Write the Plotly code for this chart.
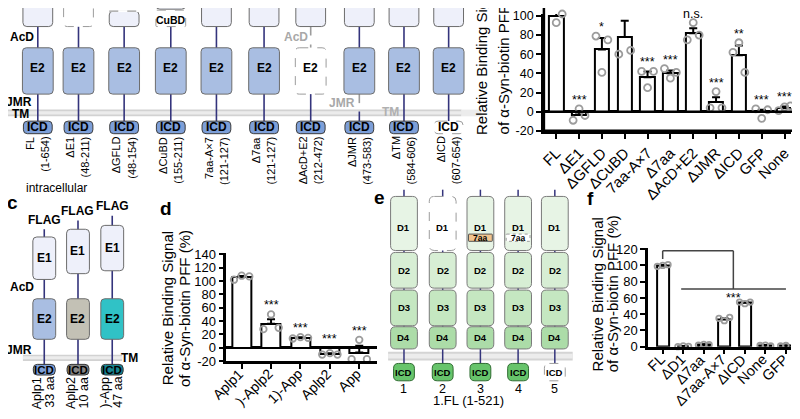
import plotly.graph_objects as go

# ---------------- data ----------------
cats_a = ["FL", "ΔE1", "ΔGFLD", "ΔCuBD", "7aa-A×7", "Δ7aa", "ΔAcD+E2", "ΔJMR", "ΔICD", "GFP", "None"]
means_a = [100, -3, 65, 78, 36, 40, 82, 10, 59, 1, 4]
sem_a = [4, 3, 12, 17, 6, 3, 5, 5, 10, 1, 1.5]
pts_a = [[106, 93, 102], [-9, 3, -4], [79, 41, 75], [60, 110, 64], [42, 25, 42], [45, 35, 41],
         [75, 93, 80], [4, 21, 4], [62, 72, 41], [3, -7, 2], [1, 5, 6]]
sig_a = ["", "***", "*", "", "***", "***", "n.s.", "***", "**", "***", "***"]
yticks_a = [-20, 0, 20, 40, 60, 80, 100]

# category names as far as they are visible in the cropped figure
cats_d = ["Aplp1", ")-Aplp2", "1)-App", "Aplp2", "App"]
means_d = [106, 36, 15, -9, -7]
sem_d = [1.5, 7, 1, 1, 10]
pts_d = [[102, 108, 107], [28, 50, 30], [14, 16, 15], [-10, -8, -10], [-17, 12, -17]]
sig_d = ["", "***", "***", "***", "***"]
yticks_d = [-20, 0, 20, 40, 60, 80, 100, 120, 140]

cats_f = ["FL", "ΔD1", "Δ7aa", "Δ7aa-A×7", "ΔICD", "None", "GFP"]
means_f = [100, 0.5, 2.5, 34, 54, 1.5, 1]
sem_f = [0.5, 0.3, 0.5, 1.5, 1.5, 0.5, 0.5]
pts_f = [[99, 100, 101], [0, 1, 0.5], [2, 3, 2.5], [35, 32, 36], [55, 53, 55], [1.5, 2, 1], [1, 1.5, 0.5]]
sig_f = "***"
yticks_f = [0, 20, 40, 60, 80, 100, 120]

constructs_a = ["FL", "ΔE1", "ΔGFLD", "ΔCuBD", "7aa-A×7", "Δ7aa", "ΔAcD+E2", "ΔJMR", "ΔTM", "ΔICD"]
ranges_a = ["(1-654)", "(48-211)", "(48-154)", "(155-211)", "(121-127)", "(121-127)",
            "(212-472)", "(473-583)", "(584-606)", "(607-654)"]
constructs_c = ["Aplp1", "Aplp2", ")-App"]
lengths_c = ["33 aa", "10 aa", "47 aa"]
numbers_e = ["1", "2", "3", "4", "5"]
legend_e = ["1.FL (1-521)"]
ytitle = ["Relative Binding Signal", "of α-Syn-biotin PFF (%)"]

# ---------------- geometry helpers ----------------
# the page keeps its 8 px body margin: the figure is 16 px smaller than the window
M = 8
W, H = 800 - 2 * M, 419 - 2 * M
FONT = "Liberation Sans, Arial, sans-serif"
NAVY = "#34347c"
GRAYL = "#9c9c9c"
shapes, anns = [], []


def X(v):
    return (v - M) / W


def Y(v):
    return 1 - (v - M) / H


def line(x0, y0, x1, y1, color=NAVY, w=1.6, dash=None):
    shapes.append(dict(type="line", xref="paper", yref="paper", x0=X(x0), y0=Y(y0), x1=X(x1), y1=Y(y1),
                       line=dict(color=color, width=w, dash=dash)))


def rect(x0, y0, x1, y1, fill):
    shapes.append(dict(type="rect", xref="paper", yref="paper", x0=X(x0), y0=Y(y0), x1=X(x1), y1=Y(y1),
                       fillcolor=fill, line=dict(width=0)))


def rbox(x0, y0, x1, y1, fill, lc="#6c6c6c", w=1, dash=None, r=4):
    f = lambda a, b: f"{X(a):.5f},{Y(b):.5f}"
    p = (f"M {f(x0 + r, y0)} L {f(x1 - r, y0)} Q {f(x1, y0)} {f(x1, y0 + r)} "
         f"L {f(x1, y1 - r)} Q {f(x1, y1)} {f(x1 - r, y1)} L {f(x0 + r, y1)} "
         f"Q {f(x0, y1)} {f(x0, y1 - r)} L {f(x0, y0 + r)} Q {f(x0, y0)} {f(x0 + r, y0)} Z")
    shapes.append(dict(type="path", xref="paper", yref="paper", path=p, fillcolor=fill,
                       line=dict(color=lc, width=w, dash=dash)))


def txt(x, y, s, size=12, bold=False, color="black", angle=0, xa="center", ya="middle"):
    anns.append(dict(xref="paper", yref="paper", x=X(x), y=Y(y), text=f"<b>{s}</b>" if bold else s,
                     showarrow=False, font=dict(family=FONT, size=size, color=color), textangle=angle,
                     xanchor=xa, yanchor=ya, borderpad=0, borderwidth=0))


# ---------------- panel a schematic ----------------
E1C, E2C, ICDC = "#eef0fa", "#a9bee2", "#7d9fd8"
cols_a = [33, 74, 120, 167, 213, 261, 308, 357, 402, 447]
rect(0, 107, 460, 114, "#d2d2d2")
rect(0, 108.8, 460, 112.2, "#ececec")
rect(460, 107, 480, 114, "#ececec")
for i, c in enumerate(cols_a):
    name = constructs_a[i]
    if name == "ΔAcD+E2":
        line(c, 21, c, 43, color=GRAYL, dash="dash")
        line(c, 91, c, 119)
    elif name == "ΔJMR":
        line(c, 21, c, 43)
        line(c, 91, c, 109, color=GRAYL, dash="dash")
        line(c, 109, c, 119)
    else:
        line(c, 21, c, 119)
    if name == "ΔE1":
        rbox(c - 15, -10, c + 15, 21, "white", lc=GRAYL, dash="dash")
    elif name == "ΔGFLD":
        rbox(c - 15, 5, c + 15, 21, E1C)
        line(c - 15, 5, c + 15, 5, color="white", w=2)
        line(c - 15, 5, c + 15, 5, color=GRAYL, w=1.2, dash="dash")
    elif name == "ΔCuBD":
        rbox(c - 15, -10, c + 15, 3, E1C)
        rbox(c - 15, 4, c + 15, 21, "white", lc=GRAYL, dash="dash", r=1)
        txt(c, 14, "CuBD", 10.5, True)
    else:
        rbox(c - 15, -10, c + 15, 21, E1C)
    if name == "ΔAcD+E2":
        rbox(c - 15.5, 43, c + 15.5, 91, "white", lc=GRAYL, dash="dash")
    else:
        rbox(c - 15.5, 43, c + 15.5, 91, E2C)
    txt(c, 64, "E2", 12, True)
    if name == "ΔICD":
        rbox(c - 14.5, 119, c + 14.5, 132, "white", lc=GRAYL, dash="dash")
    else:
        rbox(c - 14.5, 119, c + 14.5, 132, ICDC, lc="#3c3c3c")
    txt(c, 125.5, "ICD", 12, True)
    txt(c - 8, 135, name, 11, angle=-90, ya="top")
    txt(c + 7, 135, ranges_a[i], 11, angle=-90, ya="top")

txt(17, 32, "AcD", 12, True)
txt(14, 99, "JMR", 12, True)
txt(16, 112, "TM", 12, True)
txt(293, 32, "AcD", 12, True, color="#a8a8a8")
txt(340, 100, "JMR", 12, True, color="#a8a8a8")
txt(388, 110, "TM", 12, True, color="#b0b0b0")
txt(52, 188, "intracellular", 12)

# ---------------- panel c schematic ----------------
txt(7, 203, "c", 19, True)
cols_c = [39.5, 73.5, 108]
flag_y = [221, 212, 207]
e1_top = [239, 231, 227]
e1_bot = [283, 277, 274]
e2_fill = [E2C, "#c3c1b5", "#30c2c6"]
icd_fill = [ICDC, "#868686", "#178692"]
rect(18, 361, 118, 367.5, "#d2d2d2")
rect(18, 362.6, 118, 365.8, "#ececec")
for i, c in enumerate(cols_c):
    line(c, flag_y[i] + 10, c, 371)
for i, c in enumerate(cols_c):
    txt(c, flag_y[i], "FLAG", 12, True)
    rbox(c - 11.5, e1_top[i], c + 11.5, e1_bot[i], E1C)
    txt(c, (e1_top[i] + e1_bot[i]) / 2, "E1", 12, True)
    rbox(c - 11.5, 303, c + 11.5, 345, e2_fill[i])
    txt(c, 324, "E2", 12, True)
    rbox(c - 11, 371, c + 11, 382, icd_fill[i], lc="#333333")
    txt(c, 376.5, "ICD", 11.5, True)
    txt(c - 7, 384, constructs_c[i], 12.5, angle=-90, ya="top")
    txt(c + 6, 384, lengths_c[i], 12.5, angle=-90, ya="top")
txt(17, 291, "AcD", 12, True)
txt(14, 356, "JMR", 12, True)
txt(125, 364, "TM", 12, True)

# ---------------- panel e schematic ----------------
txt(377, 198, "e", 19, True)
cols_e = [402, 441, 479, 517, 554]
rect(386, 358, 572, 367, "#d4d4d4")
rect(386, 360, 572, 365, "#ececec")
dcol = ["#e7f4e5", "#d7eed4", "#c5e7c1", "#acdca8"]
dy = [(197, 253), (255, 292), (294, 331), (332, 355)]
for i, c in enumerate(cols_e):
    line(c, 190, c, 370, w=1.5)
for i, c in enumerate(cols_e):
    for k in range(4):
        y0, y1 = dy[k]
        if k == 0 and i == 1:
            rbox(c - 13.5, y0, c + 13.5, y1, "white", lc=GRAYL, dash="dash", r=5)
        else:
            rbox(c - 13.5, y0, c + 13.5, y1, dcol[k], lc="#7a7a7a", r=5)
        txt(c, [229, 274, 312, 343.5][k], f"D{k + 1}", 9.5, True)
    if i == 2:
        rbox(c - 12, 236, c + 12, 243.5, "#f2c48e", lc="#555555", r=0.5)
        txt(c, 240, "7aa", 8.5, True)
    if i == 3:
        rbox(c - 12, 236, c + 12, 243.5, "white", lc=GRAYL, dash="dot", r=0.5)
        txt(c, 240, "7aa", 8.5, True)
    if i == 4:
        rbox(c - 10.5, 370, c + 10.5, 388, "white", lc=GRAYL, dash="dash", r=5)
    else:
        rbox(c - 10.5, 370, c + 10.5, 388, "#67c46b", lc="#2f6c31", r=5)
    txt(c, 379, "ICD", 9.5, True)
    txt(c, 397, numbers_e[i], 12.5)
txt(467, 408.5, legend_e[0], 13)

# ---------------- labels for bar panels ----------------
txt(162, 210, "d", 19, True)
txt(590, 199, "f", 19, True)
txt(480, 133, ytitle[0], 15, angle=-90, ya="bottom")
txt(502, 133, ytitle[1], 15, angle=-90, ya="bottom")
txt(164, 313, ytitle[0], 15, angle=-90)
txt(181, 313, ytitle[1], 15, angle=-90)
txt(597, 298, ytitle[0], 15, angle=-90)
txt(613, 298, ytitle[1], 15, angle=-90)

# ---------------- bar charts ----------------
fig = go.Figure()
OFFS = [-0.26, 0, 0.26]


def bars(xa, ya, means, sem, pts, bw, msize):
    idx = list(range(len(means)))
    fig.add_trace(go.Bar(x=idx, y=means, width=bw, xaxis=xa, yaxis=ya, showlegend=False, cliponaxis=False,
                         marker=dict(color="white", line=dict(color="black", width=2)),
                         error_y=dict(type="data", symmetric=False, array=sem, arrayminus=[0] * len(sem),
                                      color="black", thickness=2, width=4)))
    xs, ys = [], []
    for i, p in enumerate(pts):
        for j, v in enumerate(p):
            xs.append(i + OFFS[j])
            ys.append(v)
    fig.add_trace(go.Scatter(x=xs, y=ys, mode="markers", xaxis=xa, yaxis=ya, showlegend=False, cliponaxis=False,
                             marker=dict(symbol="circle-open", size=msize, color="#9c9c9c", line=dict(width=1.8))))


def stars(xr, yr, means, sem, pts, sig, shift):
    for i, s in enumerate(sig):
        if s:
            top = max(max(pts[i]), means[i] + sem[i], 0)
            anns.append(dict(xref=xr, yref=yr, x=i, y=top, text=s, showarrow=False, yanchor="bottom",
                             yshift=shift, borderpad=0, font=dict(family=FONT, size=12.5, color="black")))


def tick_labels(xr, cats, top_px, size):
    # category labels drawn as rotated annotations, their box hanging from just below the axis
    for i, s in enumerate(cats):
        anns.append(dict(xref=xr, yref="paper", x=i, y=Y(top_px), xshift=5, text=s, showarrow=False,
                         textangle=-45, xanchor="right", yanchor="top", borderpad=0, borderwidth=0,
                         font=dict(family=FONT, size=size, color="black")))


bars("x", "y", means_a, sem_a, pts_a, 0.63, 7)
bars("x2", "y2", means_d, sem_d, pts_d, 0.64, 6.5)
bars("x3", "y3", means_f, sem_f, pts_f, 0.58, 5.5)
stars("x", "y", means_a, sem_a, pts_a, sig_a, 1)
stars("x2", "y2", means_d, sem_d, pts_d, sig_d, 1)
tick_labels("x2", cats_d, 372.5, 14)
tick_labels("x3", cats_f, 357.5, 14.5)

bx = 3.44
for (x0, y0, x1, y1) in [(0, 108, 0, 118), (0, 118, bx, 118), (bx, 118, bx, 71), (0.9, 71, 6.0, 71)]:
    shapes.append(dict(type="line", xref="x3", yref="y3", x0=x0, y0=y0, x1=x1, y1=y1,
                       line=dict(color="#444444", width=1.5)))
anns.append(dict(xref="x3", yref="y3", x=bx, y=71, text=sig_f, showarrow=False, yanchor="top", yshift=-1,
                 borderpad=0, font=dict(family=FONT, size=12.5, color="black")))

# panel a axes run on to the window edges
line(543, 129, 800, 129, color="black", w=2.5)
line(543, 109.3, 800, 109.3, color="black", w=2.5)
line(543, 129, 543, 0, color="black", w=2.5)

ax = dict(showline=True, linecolor="black", linewidth=2.5, ticks="outside", ticklen=5, tickwidth=2,
          tickcolor="black", showgrid=False, zeroline=False, fixedrange=True, ticklabeloverflow="allow")


def xaxis(dom, rng, cats, anchor, size, labels=True):
    return dict(ax, domain=dom, range=rng, anchor=anchor, tickmode="array", tickvals=list(range(len(cats))),
                ticktext=cats, tickangle=-45, showticklabels=labels,
                tickfont=dict(family=FONT, size=size, color="black"))


def yaxis(dom, rng, ticks, anchor, size, zl=True):
    return dict(ax, domain=dom, range=rng, anchor=anchor, tickmode="array", tickvals=ticks,
                ticktext=[str(t) for t in ticks], zeroline=zl, zerolinecolor="black", zerolinewidth=2.5,
                tickfont=dict(family=FONT, size=size, color="black"))


fig.update_layout(
    width=W, height=H, autosize=False, margin=dict(l=0, r=0, t=0, b=0),
    paper_bgcolor="white", plot_bgcolor="rgba(0,0,0,0)", bargap=0,
    xaxis=xaxis([X(543), 1.0], [-0.54, (792 - 555.5) / 23], cats_a, "y", 15),
    yaxis=yaxis([Y(129), 1.0], [-20, (109.3 - M) / 0.993], yticks_a, "x", 12.5),
    xaxis2=xaxis([X(223), X(375)], [-0.52, 4.61], cats_d, "y2", 14, labels=False),
    yaxis2=yaxis([Y(367.7), Y(255.6)], [-20, 142], yticks_d, "x2", 13),
    xaxis3=xaxis([X(648), 1.0], [-0.71, (792 - 662.7) / 20.7], cats_f, "y3", 14.5, labels=False),
    yaxis3=yaxis([Y(352.7), Y(250)], [0, 122], yticks_f, "x3", 13, zl=False),
    shapes=shapes, annotations=anns,
)

fig.write_html("out.html", config={"displayModeBar": False})
